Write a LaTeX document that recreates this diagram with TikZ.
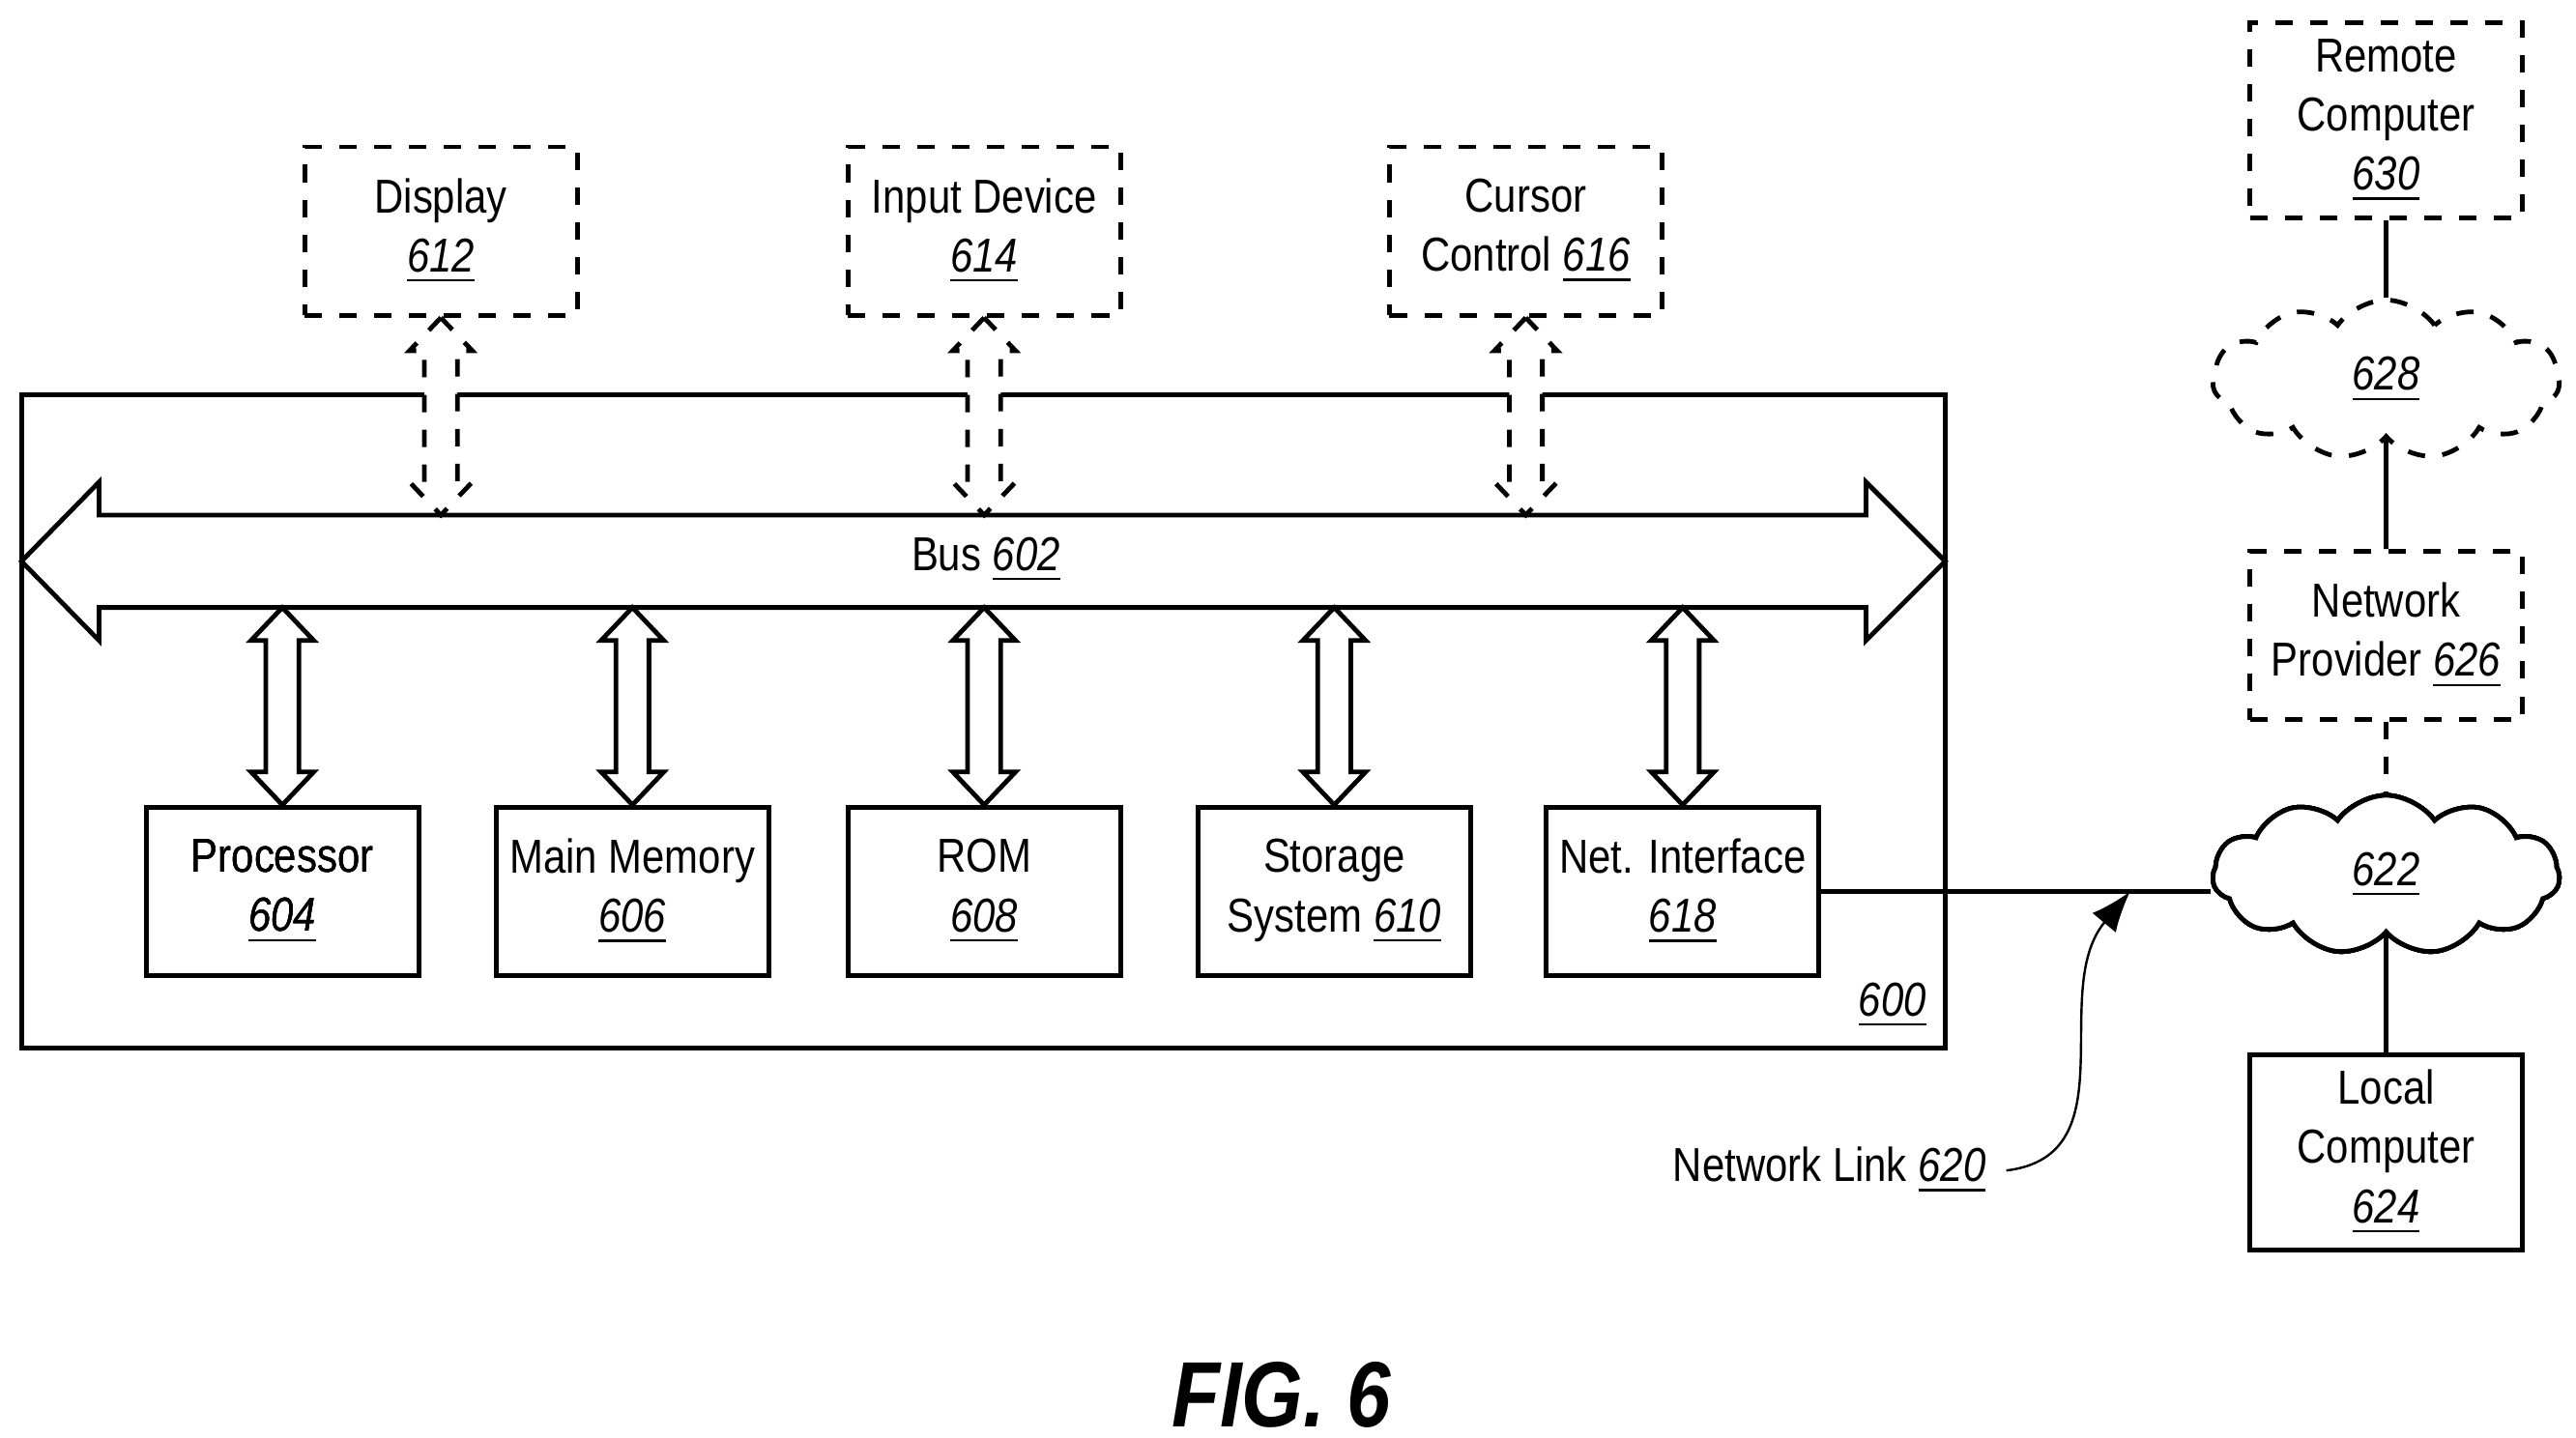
\documentclass[tikz,border=0pt]{standalone}
\usepackage{fontspec}
\setmainfont[FakeStretch=0.85]{Liberation Sans}
\usetikzlibrary{calc,shapes.symbols,arrows.meta}
\newcommand\refn[1]{\underline{\textit{#1}}}
% vertical double arrow between two points
\newcommand\vdarrow[3][]{%
  \draw[fill=white,#1] #2 -- ++(-19,20) -- ++(9,0) -- ($#3+(-10,-20)$) -- ++(-9,0)
    -- #3 -- ++(19,-20) -- ++(-9,0) -- ($#2+(10,20)$) -- ++(9,0) -- cycle;}
\begin{document}
\begin{tikzpicture}[x=0.01cm,y=-0.01cm,
    every node/.style={font=\fontsize{8.2}{10.2}\selectfont, align=center},
    box/.style={draw, thick, minimum width=1.65cm, minimum height=1.02cm, inner sep=1pt},
    dbox/.style={box, dashed},
    cld/.style={draw, thick, cloud, cloud puffs=11, cloud puff arc=110, aspect=2.6,
      minimum width=2.1cm, minimum height=0.85cm},
  ]
  \useasboundingbox (0,0) rectangle (1560,871);
  % computer system
  \draw[thick] (13,239) rectangle (1178,635);
  \node at (1146,609) {\refn{600}};
  \draw[thick, fill=white] (13,340) -- (60,292) -- (60,312) -- (1130,312) -- (1130,292)
    -- (1178,340) -- (1130,388) -- (1130,368) -- (60,368) -- (60,388) -- cycle;
  \node (bus) at (597,339) {Bus \refn{602}};
  \coordinate (busT) at (0,312);
  \coordinate (busB) at (0,368);
  % peripherals
  \node[dbox] (disp) at (267,140) {Display\\\refn{612}};
  \node[dbox] (inp) at (596,140) {Input Device\\\refn{614}};
  \node[dbox] (cur) at (924,140) {Cursor\\Control \refn{616}};
  \foreach \n in {disp,inp,cur}
    \vdarrow[thick,dashed]{(\n.south)}{(\n.south |- busT)}
  % components
  \node[box] (proc) at (171,540) {Processor\\\refn{604}};
  \node[box] (mem) at (383,540) {Main Memory\\\refn{606}};
  \node[box] (rom) at (596,540) {ROM\\\refn{608}};
  \node[box] (stor) at (808,540) {Storage\\System \refn{610}};
  \node[box] (net) at (1019,540) {Net. Interface\\\refn{618}};
  \foreach \n in {proc,mem,rom,stor,net}
    \vdarrow[thick]{(\n.north |- busB)}{(\n.north)}
  % network
  \node[cld, fill=white] (c622) at (1445,530) {\refn{622}};
  \node[cld, dashed] (c628) at (1445,230) {\refn{628}};
  \node[dbox, minimum height=1.18cm] (rem) at (1445,73) {Remote\\Computer\\\refn{630}};
  \node[dbox] (prov) at (1445,385) {Network\\Provider \refn{626}};
  \node[box, minimum height=1.18cm] (loc) at (1445,698) {Local\\Computer\\\refn{624}};
  \draw[thick] (rem) -- (c628);
  \draw[thick] (c628) -- (prov);
  \draw[thick, dashed] (prov) -- (c622);
  \draw[thick] (c622) -- (loc);
  \draw[thick] (net.east) -- (c622.west |- net.east) coordinate (lnk);
  \coordinate (tip) at (1290,540);
  \node[anchor=east] (nl) at (1215,709) {Network Link \refn{620}};
  \draw[-{Latex[length=7pt]}] (nl.east) .. controls (1290,700) and (1240,600) .. (tip);
  \node[font=\fontsize{16}{18}\selectfont\bfseries\itshape] (fig) at (776,845) {FIG. 6};
\end{tikzpicture}
\end{document}
